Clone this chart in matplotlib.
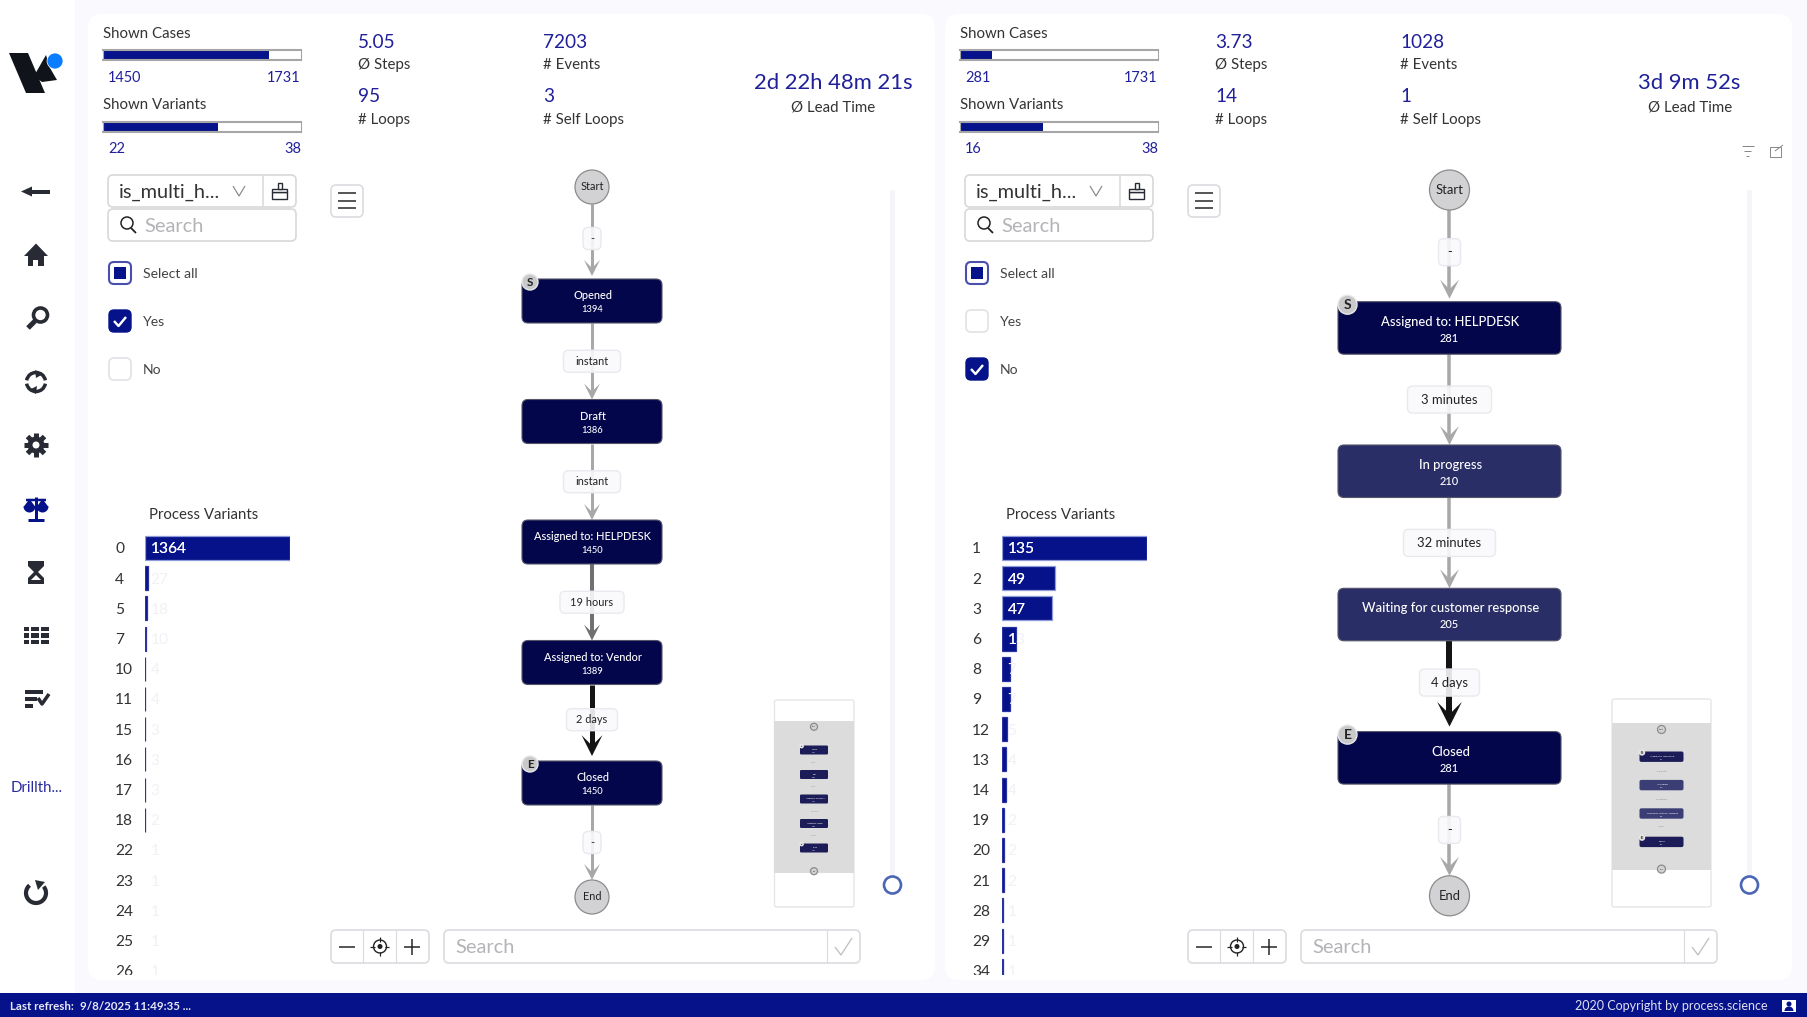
# Recreates the process mining comparison dashboard (two process variants side by side)

import numpy as np
import matplotlib
matplotlib.use("Agg")
import matplotlib.pyplot as plt
from matplotlib.patches import FancyBboxPatch, Circle, Rectangle, Polygon, Arc, Wedge
from matplotlib.transforms import Bbox

plt.rcParams["font.family"] = ["Lato", "DejaVu Sans"]

W, H = 1807, 1017

# Left panel data
left_cases = [1450, 1731]
left_variants = [22, 38]
left_stats = ["5.05", "95", "7203", "3"]
left_lead = "2d 22h 48m 21s"
left_checks = [False, True, False]
left_rows = ["0", "4", "5", "7", "10", "11", "15", "16", "17", "18", "22", "23", "24", "25", "26"]
left_counts = [1364, 27, 18, 10, 4, 4, 3, 3, 3, 2, 1, 1, 1, 1, 1]
left_nodes = ["Opened", "Draft", "Assigned to: HELPDESK", "Assigned to: Vendor", "Closed"]
left_freq = [1394, 1386, 1450, 1389, 1450]
left_times = ["-", "instant", "instant", "19 hours", "2 days", "-"]
left_fill = ["#03064a", "#03064a", "#03064a", "#03064a", "#03064a"]
left_edge = ["#a8a8a8", "#a8a8a8", "#a8a8a8", "#707070", "#141414", "#a8a8a8"]
left_edge_w = [3, 3, 3, 4, 5, 3]

# Right panel data
right_cases = [281, 1731]
right_variants = [16, 38]
right_stats = ["3.73", "14", "1028", "1"]
right_lead = "3d 9m 52s"
right_checks = [False, False, True]
right_rows = ["1", "2", "3", "6", "8", "9", "12", "13", "14", "19", "20", "21", "28", "29", "34"]
right_counts = [135, 49, 47, 13, 7, 7, 5, 4, 4, 2, 2, 2, 1, 1, 1]
right_nodes = ["Assigned to: HELPDESK", "In progress", "Waiting for customer response", "Closed"]
right_freq = [281, 210, 205, 281]
right_times = ["-", "3 minutes", "32 minutes", "4 days", "-"]
right_fill = ["#03064a", "#2a2e66", "#2a2e66", "#03064a"]
right_edge = ["#a8a8a8", "#a8a8a8", "#a8a8a8", "#141414", "#a8a8a8"]
right_edge_w = [3.5, 3.5, 3.5, 6, 3.5]

NAVY = "#06128a"
BLUE_TEXT = "#20209a"
DARK = "#282b33"
TEXT = "#333333"
BG = "#f9f9fe"


def px(size):
    # css pixels to points at dpi 100
    return size * 0.72


fig = plt.figure(figsize=(W / 100, H / 100), dpi=100, facecolor=BG)
page = fig.add_axes([0, 0, 1, 1])
page.set_xlim(0, W)
page.set_ylim(H, 0)
page.axis("off")


def box(x0, y0, x1, y1, face="white", edge="none", lw=1, r=4, z=2):
    p = FancyBboxPatch((x0, y0), x1 - x0, y1 - y0, boxstyle=f"round,pad=0,rounding_size={r}",
                       facecolor=face, edgecolor=edge, linewidth=lw, zorder=z)
    page.add_patch(p)


def label(x, y, s, size=15, color=TEXT, ha="left", weight="normal", z=6):
    return page.text(x, y + 1, s, fontsize=px(size), color=color, ha=ha, va="center",
                     fontweight=weight, zorder=z)


def line(xs, ys, color=DARK, lw=1.5, z=5, cap="butt"):
    page.plot(xs, ys, color=color, lw=lw * 0.72, zorder=z, solid_capstyle=cap)


def sub_axes(x0, y0, x1, y1):
    ax = fig.add_axes([x0 / W, 1 - y1 / H, (x1 - x0) / W, (y1 - y0) / H])
    ax.patch.set_visible(False)
    return ax


def progress(x0, y0, value, total):
    ax = sub_axes(x0, y0, x0 + 198, y0 + 10)
    ax.barh([0], [value], height=1, color=NAVY)
    ax.set_xlim(0, total)
    ax.set_ylim(-0.5, 0.5)
    ax.set_xticks([])
    ax.set_yticks([])
    ax.patch.set_visible(True)
    for side, spine in ax.spines.items():
        spine.set_color("#a6a6a6")
        spine.set_linewidth(1.5 if side in ("top", "bottom") else 0.8)


def variant_bars(x0, rows, counts):
    top, bottom = 533, 975
    first, pitch = 548, 30.2
    ax = sub_axes(x0, top, x0 + 145, bottom)
    pos = np.arange(len(rows))
    # bars narrower than a fraction of a pixel do not show in the original
    edges = []
    for c in counts:
        width = c / max(counts) * 145
        edges.append("none" if width < 0.15 else "#2a33a0" if width < 30 else "#8f9bd8")
    bars = ax.barh(pos, counts, height=0.8, color=NAVY, edgecolor=edges, linewidth=0.9)
    ax.set_xlim(0, max(counts))
    ax.set_ylim((bottom - first) / pitch, (top - first) / pitch)
    ax.set_xticks([])
    ax.set_yticks(pos)
    ax.set_yticklabels(rows, ha="left", fontsize=px(15.5), color=TEXT)
    ax.tick_params(axis="y", length=0, pad=px(30))
    for spine in ax.spines.values():
        spine.set_visible(False)
    clip = Bbox([[x0 - 40, H - bottom], [x0 + 200, H - top + 40]])
    for lab in ax.get_yticklabels():
        lab.set_clip_box(clip)
        lab.set_clip_on(True)
    # value labels are white, so they only show where they sit on the bar
    for i, c in enumerate(counts):
        ax.annotate(str(c), (0, i), xytext=(4, -1), textcoords="offset points", va="center",
                    fontsize=px(15.5), color="#f1f1f6", clip_on=True)
        t = ax.annotate(str(c), (0, i), xytext=(4, -1), textcoords="offset points", va="center",
                        fontsize=px(15.5), color="white", clip_on=True)
        t.set_clip_path(bars[i])


def chevron(x, tip, color, half, length, notch):
    page.add_patch(Polygon([(x, tip), (x - half, tip - length), (x, tip - notch), (x + half, tip - length)],
                           closed=True, facecolor=color, edgecolor="none", zorder=3))


def flow(cx, top, pitch, w, h, r, gap, nodes, freq, times, fills, edges, widths, text_px,
         lab_h=22, lab_w=None, mini=False):
    s = w / 140 if mini else 1
    ys = [top + i * pitch for i in range(len(nodes))]
    start_y = top - gap
    end_y = ys[-1] + h + gap

    spans = [(start_y + r, ys[0])]
    for y in ys:
        spans.append((y + h, y + pitch))
    spans[-1] = (ys[-1] + h, end_y - r)

    for i, (a, b) in enumerate(spans):
        lw = widths[i] * (0.45 if mini else 1)
        big = edges[i] == "#141414"
        scale = 1.3 if big and not mini else 1
        hw = (8 if w < 200 else 9.5) * scale * (0.45 if mini else 1)
        tip = b - (5 if big and not mini else 3 if i == 0 and not mini else 0)
        chevron(cx, tip, edges[i], hw, hw * 2, hw)
        line([cx, cx], [a, tip - hw], color=edges[i], lw=lw, z=2.5)
        frac = 0.46 if (i == 0 or big) else 0.5
        mid = a + frac * (b - a)
        if mini:
            page.text(cx, mid, times[i], fontsize=px(text_px), color="#888888", ha="center", va="center", zorder=6)
        else:
            lw_box = lab_w[i]
            box(cx - lw_box / 2, mid - lab_h / 2, cx + lw_box / 2, mid + lab_h / 2,
                face=(0.98, 0.98, 0.99, 0.9), edge="#e9e9ef", r=5, z=4)
            label(cx, mid - 1, times[i], size=text_px, color="#222222", ha="center")

    for i, y in enumerate(ys):
        box(cx - w / 2, y, cx + w / 2, y + h, face=fills[i], edge="#55556a" if not mini else "none",
            lw=0.8, r=6 * s if mini else 6, z=4)
        label(cx + 1, y + h * 0.36, nodes[i], size=text_px, color="white", ha="center", weight="medium")
        label(cx, y + h * 0.68, str(freq[i]), size=text_px * 0.85, color="white", ha="center", weight="medium")

    for y, name in ((start_y, "Start"), (end_y, "End")):
        page.add_patch(Circle((cx, y), r, facecolor="#d2d2d4", edgecolor="#8c8c8c", lw=0.9, zorder=4))
        label(cx, y - 1, name, size=text_px, color="#222222", ha="center")

    badge = (8 if w < 200 else 9.5) * s
    for y, name in ((ys[0], "S"), (ys[-1], "E")):
        bx = cx - w / 2 + badge
        page.add_patch(Circle((bx, y + 3 * s), badge, facecolor="#c9c9cb", edgecolor="#e8e8e8", lw=1, zorder=5))
        label(bx, y + 2 * s, name, size=badge * 1.45, color="#222222", ha="center", weight="bold")


def panel(dx, cases, variants, stats, lead, checks, rows, counts):
    box(88 + dx, 14, 935 + dx if dx == 0 else 1792, 980, r=14, z=1)

    label(103 + dx, 33, "Shown Cases")
    progress(103 + dx, 50, cases[0], cases[1])
    label(108 + dx, 77, str(cases[0]), size=14.5, color=BLUE_TEXT)
    label(301 + dx, 77, str(cases[1]), size=14.5, color=BLUE_TEXT, ha="right")
    label(103 + dx, 104, "Shown Variants")
    progress(103 + dx, 122, variants[0], variants[1])
    label(108 + dx, 148, str(variants[0]), size=14.5, color=BLUE_TEXT)
    label(301 + dx, 148, str(variants[1]), size=14.5, color=BLUE_TEXT, ha="right")

    label(358 + dx, 41, stats[0], size=19, color=BLUE_TEXT)
    label(358 + dx, 64, "Ø Steps")
    label(358 + dx, 96, stats[1], size=19, color=BLUE_TEXT)
    label(358 + dx, 119, "# Loops")
    label(543 + dx, 41, stats[2], size=19, color=BLUE_TEXT)
    label(543 + dx, 64, "# Events")
    label(543 + dx, 96, stats[3], size=19, color=BLUE_TEXT)
    label(543 + dx, 119, "# Self Loops")
    label(833 + dx - (1 if dx else 0), 82, lead, size=22, color=BLUE_TEXT, ha="center")
    label(833 + dx, 107, "Ø Lead Time", ha="center")

    # attribute filter
    box(108 + dx, 175, 296 + dx, 207, edge="#d8d8dc", lw=1.2, r=5)
    line([263 + dx, 263 + dx], [175, 207], color="#d8d8dc", lw=1.5)
    label(119 + dx, 191, "is_multi_h...", size=20, color="#333333")
    line([233 + dx, 239 + dx, 245 + dx], [186, 196, 186], color="#8a8a8a", lw=1.2)
    page.add_patch(Rectangle((272.5 + dx, 192), 15, 7, fc="white", ec=DARK, lw=1, zorder=5))
    page.add_patch(Rectangle((272.5 + dx, 189), 15, 3, fc="white", ec=DARK, lw=1, zorder=5))
    page.add_patch(Rectangle((278 + dx, 183), 4, 6, fc="white", ec=DARK, lw=1, zorder=5))

    box(108 + dx, 209, 296 + dx, 241, edge="#d8d8dc", lw=1.2, r=5)
    page.add_patch(Circle((127 + dx, 223), 6, fc="none", ec="#222222", lw=1.1, zorder=5))
    line([131 + dx, 136 + dx], [228, 233], color="#222222", lw=1.8)
    label(144 + dx, 225, "Search", size=20, color="#b4b4b8")

    # check boxes
    for y, name, on in zip((273, 321, 369), ("Select all", "Yes", "No"), checks):
        if name == "Select all":
            box(109 + dx, y - 11, 131 + dx, y + 11, edge="#4a4fae", lw=1.5, r=5)
            page.add_patch(Rectangle((114 + dx, y - 6), 12, 12, fc=NAVY, ec="none", zorder=5))
        elif on:
            box(109 + dx, y - 11, 131 + dx, y + 11, face=NAVY, edge=NAVY, lw=1, r=5)
            line([114 + dx, 118.5 + dx, 126 + dx], [y, y + 5, y - 4], color="white", lw=2.4, z=6)
        else:
            box(109 + dx, y - 11, 131 + dx, y + 11, edge="#e2e2e6", lw=1.2, r=5)
        label(143 + dx, y, name, size=14, color="#444444")

    label(149 + dx, 514, "Process Variants")
    variant_bars(145 + dx, rows, counts)

    # hamburger
    box(331 + dx, 185, 363 + dx, 217, edge="#dcdce0", lw=1.2, r=5)
    for y in (193, 201, 208):
        line([338 + dx, 356 + dx], [y, y], color="#222222", lw=1.5)

    # zoom controls and node search
    box(331 + dx, 930, 429 + dx, 963, edge="#dcdce0", lw=1.2, r=5)
    line([363.5 + dx, 363.5 + dx], [930, 963], color="#dcdce0", lw=1.2)
    line([396 + dx, 396 + dx], [930, 963], color="#dcdce0", lw=1.2)
    line([339 + dx, 355 + dx], [946.5, 946.5], color="#222222", lw=1.5)
    line([404 + dx, 420 + dx], [946.5, 946.5], color="#222222", lw=1.5)
    line([412 + dx, 412 + dx], [938.5, 954.5], color="#222222", lw=1.5)
    tx = 380 + dx
    page.add_patch(Circle((tx, 946.5), 6.5, fc="none", ec="#222222", lw=1, zorder=5))
    page.add_patch(Circle((tx, 946.5), 2.5, fc="#222222", ec="none", zorder=5))
    line([tx - 9.5, tx - 5], [946.5, 946.5], color="#222222", lw=1.2)
    line([tx + 5, tx + 9.5], [946.5, 946.5], color="#222222", lw=1.2)
    line([tx, tx], [937, 941.5], color="#222222", lw=1.2)
    line([tx, tx], [951.5, 956], color="#222222", lw=1.2)

    box(444 + dx, 930, 860 + dx, 963, edge="#dcdce0", lw=1.2, r=5)
    cx = 827 + dx
    line([cx, cx], [930, 963], color="#dcdce0", lw=1.2)
    line([cx + 8, cx + 14, cx + 25], [947, 955, 938], color="#c0c0c4", lw=1.3)
    label(455 + dx, 946.5, "Search", size=20, color="#b4b4b8")

    # zoom slider
    sx = 892.5 + dx
    line([sx, sx], [190, 878], color="#f4f4f9", lw=5, z=1.5)
    page.add_patch(Circle((sx, 885), 8.5, fc="white", ec="#4a66b5", lw=1.9, zorder=5))


def sidebar():
    page.add_patch(Rectangle((0, 0), 75, H, fc="white", ec="none", zorder=1))
    # logo
    page.add_patch(Polygon([(9, 53), (28, 53), (45, 93), (26, 93)], fc="#11131a", ec="none", zorder=3))
    page.add_patch(Polygon([(34, 76), (46, 55), (50, 68), (57, 80), (42, 82)], fc="#11131a", ec="none", zorder=3))
    page.add_patch(Circle((55, 61), 8, fc="#0a7cff", ec="white", lw=0.5, zorder=4))

    cx = 36
    # back arrow
    page.add_patch(Polygon([(21, 191.5), (32, 186.5), (32, 196.5)], fc=DARK, ec="none", zorder=3))
    page.add_patch(Rectangle((30, 189.5), 20, 4, fc=DARK, ec="none", zorder=3))
    # home
    page.add_patch(Polygon([(24, 256), (cx, 243.5), (48, 256)], fc=DARK, ec="none", zorder=3))
    page.add_patch(Rectangle((28, 255), 16, 11, fc=DARK, ec="none", zorder=3))
    page.add_patch(Rectangle((33.5, 260), 5, 6, fc="white", ec="none", zorder=4))
    # magnifier
    page.add_patch(Circle((40.5, 315), 7, fc="none", ec=DARK, lw=2.6, zorder=3))
    line([35, 28], [321, 328], lw=5, z=3)
    # refresh
    page.add_patch(Arc((cx, 382), 19, 19, theta1=10, theta2=170, ec=DARK, lw=2.5, zorder=3))
    page.add_patch(Arc((cx, 382), 19, 19, theta1=190, theta2=350, ec=DARK, lw=2.5, zorder=3))
    page.add_patch(Polygon([(35, 370), (43, 374), (36, 378)], fc=DARK, ec="none", zorder=3))
    page.add_patch(Polygon([(37, 386), (29, 390), (36, 394)], fc=DARK, ec="none", zorder=3))
    # gear
    for a in np.arange(0, 360, 45):
        ca, sa = np.cos(np.radians(a)), np.sin(np.radians(a))
        line([cx + 7 * ca, cx + 12 * ca], [445 + 7 * sa, 445 + 12 * sa], lw=5, z=3)
    page.add_patch(Circle((cx, 445), 8.5, fc=DARK, ec="none", zorder=3))
    page.add_patch(Circle((cx, 445), 3.5, fc="white", ec="none", zorder=4))
    # scales
    line([cx, cx], [497, 519], color=NAVY, lw=3, z=3)
    line([26, 46], [500, 500], color=NAVY, lw=2.5, z=3)
    line([28, 44], [519.5, 519.5], color=NAVY, lw=3, z=3)
    for bx in (29.5, 42.5):
        page.add_patch(Polygon([(bx, 499), (bx - 6, 507), (bx + 6, 507)], fc=NAVY, ec="none", zorder=3))
        page.add_patch(Wedge((bx, 506.5), 6, 0, 180, fc=NAVY, ec="none", zorder=3))
    # hourglass
    page.add_patch(Polygon([(28, 561), (44, 561), (44, 566), (38, 572), (44, 578), (44, 584), (28, 584),
                            (28, 578), (34, 572), (28, 566)], fc=DARK, ec="none", zorder=3))
    page.add_patch(Polygon([(36, 575), (41, 580), (31, 580)], fc="white", ec="none", zorder=4))
    # table
    for y in (626.5, 633, 639.5):
        for x, w in ((24, 5), (31, 8), (41, 8)):
            page.add_patch(Rectangle((x, y), w, 4.5, fc=DARK, ec="none", zorder=3))
    # checklist
    for y, w in ((690, 18), (697, 12), (704, 8)):
        page.add_patch(Rectangle((25, y), w, 3.5, fc=DARK, ec="none", zorder=3))
    line([38, 42, 49], [698, 704, 694], lw=3.5, z=3)

    label(cx + 1, 787, "Drillth...", size=15, color="#2b2ba0", ha="center")
    # reload
    page.add_patch(Arc((cx, 893), 20, 20, theta1=320, theta2=230, ec=DARK, lw=3, zorder=3))
    page.add_patch(Polygon([(35, 880), (45, 882), (38, 890)], fc=DARK, ec="none", zorder=3))


sidebar()

panel(0, left_cases, left_variants, left_stats, left_lead, left_checks, left_rows, left_counts)
panel(857, right_cases, right_variants, right_stats, right_lead, right_checks, right_rows, right_counts)

# Process graphs
flow(592, 279, 120.5, 140, 44, 17, 92, left_nodes, left_freq, left_times, left_fill, left_edge, left_edge_w,
     11, lab_h=22, lab_w=[18, 57, 57, 64, 51, 18])
flow(1449.5, 301.7, 143.3, 223, 52.5, 20, 111.7, right_nodes, right_freq, right_times, right_fill, right_edge,
     right_edge_w, 13, lab_h=27, lab_w=[22, 84, 92, 60, 22])

# Minimaps
box(774.5, 700, 854, 907, edge="#e6e6ea", r=2, z=3)
page.add_patch(Rectangle((774.5, 721), 79.5, 152, fc="#dcdcdd", ec="none", zorder=3.2))
flow(814, 745.5, 24.5, 28, 9, 3.5, 18.7, left_nodes, left_freq, left_times, ["#1c1c58"] * 5, left_edge, left_edge_w,
     1.8, mini=True)
box(1612, 699, 1711, 907, edge="#e6e6ea", r=2, z=3)
page.add_patch(Rectangle((1612, 723), 99, 147, fc="#dcdcdd", ec="none", zorder=3.2))
flow(1661.5, 751.5, 28.4, 44, 10.4, 4, 22, right_nodes, right_freq, right_times,
     ["#1c1c58", "#3a3e74", "#3a3e74", "#1c1c58"], right_edge, right_edge_w, 2.2, mini=True)

# Top right icons of the right panel
for y, a, b in ((146, 1742, 1754), (151, 1744.5, 1751.5), (155.5, 1746.5, 1749.5)):
    line([a, b], [y, y], color="#888888", lw=1)
page.add_patch(Rectangle((1770, 147), 11, 10, fc="none", ec="#888888", lw=0.7, zorder=5))
line([1775, 1783], [151, 145], color="#888888", lw=1)

# Status bar
page.add_patch(Rectangle((0, 993), W, 24, fc=NAVY, ec="none", zorder=8))
label(10, 1006, "Last refresh:", size=11.5, color="#e8e8f4", weight="bold", z=9)
label(80, 1006, "9/8/2025 11:49:35 ...", size=11.5, color="#e8e8f4", weight="bold", z=9)
label(1768, 1005, "2020 Copyright by process.science", size=12.5, color="#e0e0f0", ha="right", z=9)
page.add_patch(Rectangle((1782, 1000), 14, 12, fc="white", ec="none", zorder=9))
page.add_patch(Circle((1789, 1004), 2.5, fc=NAVY, ec="none", zorder=10))
page.add_patch(Wedge((1789, 1011), 4.5, 180, 360, fc=NAVY, ec="none", zorder=10))

fig.savefig("out.png", dpi=100, facecolor=BG)
